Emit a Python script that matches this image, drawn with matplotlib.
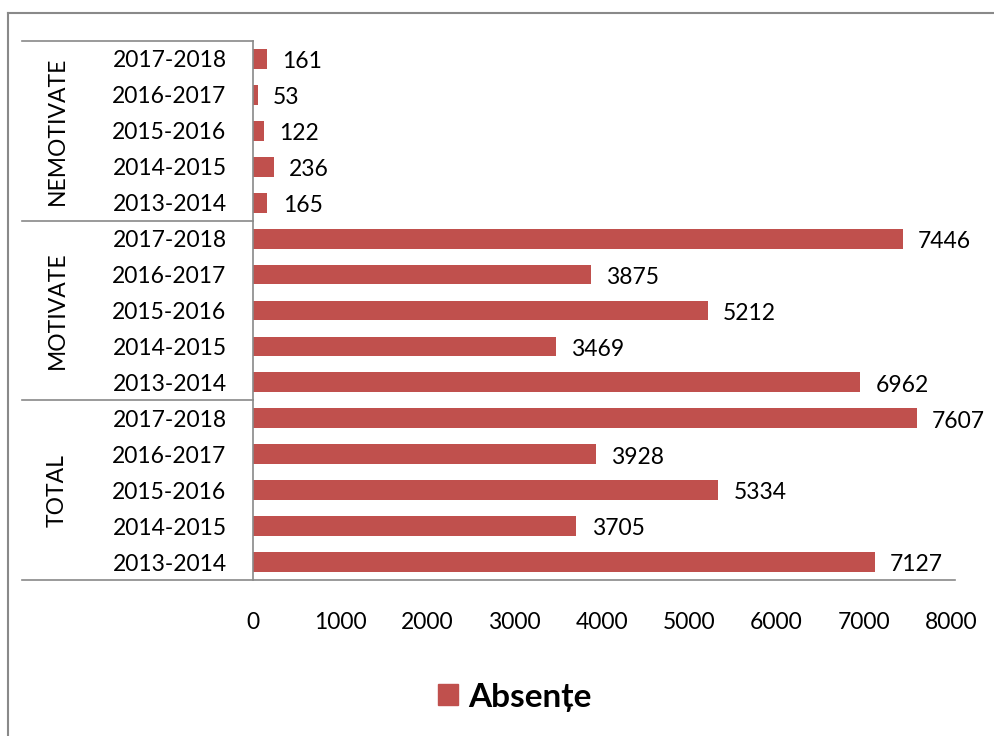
import matplotlib
matplotlib.use('Agg')
from matplotlib import pyplot as plt
from matplotlib.patches import Patch
from matplotlib.lines import Line2D

# groups from bottom to top, years inside each group from bottom to top
groups = ['TOTAL', 'MOTIVATE', 'NEMOTIVATE']
years = ['2013-2014', '2014-2015', '2015-2016', '2016-2017', '2017-2018']
total = [7127, 3705, 5334, 3928, 7607]
motivate = [6962, 3469, 5212, 3875, 7446]
nemotivate = [165, 236, 122, 53, 161]
series_name = 'Absențe'
x_ticks = [0, 1000, 2000, 3000, 4000, 5000, 6000, 7000, 8000]

BAR = '#C0504D'
LINE = '#898989'
FS = 16.5
plt.rcParams['font.family'] = ['Lato', 'DejaVu Sans']


def main() -> None:
    values = total + motivate + nemotivate
    labels = years * len(groups)
    positions = list(range(len(values)))

    fig = plt.figure(figsize=(9.95, 7.36), dpi=100)
    ax = fig.add_axes([253 / 995, 1 - 580 / 736, 698 / 995, 539 / 736])

    ax.barh(positions, values, height=0.55, color=BAR)
    for y, v in zip(positions, values):
        ax.annotate(str(v), (v, y), xytext=(11, -2), textcoords='offset points',
                    va='center', ha='left', fontsize=FS)

    ax.set_ylim(-0.5, len(values) - 0.5)
    ax.set_xlim(0, 8000)
    ax.set_xticks(x_ticks)
    ax.set_xticklabels([str(t) for t in x_ticks], fontsize=FS)
    ax.set_yticks(positions)
    ax.set_yticklabels(labels, fontsize=FS)
    ax.tick_params(axis='y', length=0, pad=19)
    ax.tick_params(axis='x', length=0, pad=23)

    for side in ('top', 'right', 'bottom'):
        ax.spines[side].set_visible(False)
    ax.spines['left'].set_color(LINE)
    ax.spines['left'].set_linewidth(1.2)

    # group separators reaching into the label area
    trans = ax.get_yaxis_transform()
    left = (22 - 253) / 698
    for i in range(len(groups) + 1):
        y = i * len(years) - 0.5
        right = 1.006 if i == 0 else 0
        ax.add_line(Line2D([left, right], [y, y], transform=trans, color=LINE,
                           linewidth=1.2, clip_on=False))

    for i, name in enumerate(groups):
        y = i * len(years) + (len(years) - 1) / 2
        ax.text((57 - 253) / 698, y, name, transform=trans, rotation=90,
                ha='center', va='center', fontsize=FS)

    # chart area border (only top and left visible)
    fig.add_artist(Line2D([8 / 995, 1], [1 - 12.5 / 736] * 2, color=LINE, linewidth=1.5))
    fig.add_artist(Line2D([8 / 995] * 2, [0, 1 - 12.5 / 736], color=LINE, linewidth=1.5))

    fig.legend(handles=[Patch(color=BAR, label=series_name)], loc='center',
               bbox_to_anchor=(515 / 995, 1 - 697 / 736), frameon=False,
               prop=dict(size=24, weight='bold'), handlelength=0.6, handleheight=0.6,
               handletextpad=0.3)

    fig.savefig('out.png', dpi=100)


if __name__ == '__main__':
    main()
